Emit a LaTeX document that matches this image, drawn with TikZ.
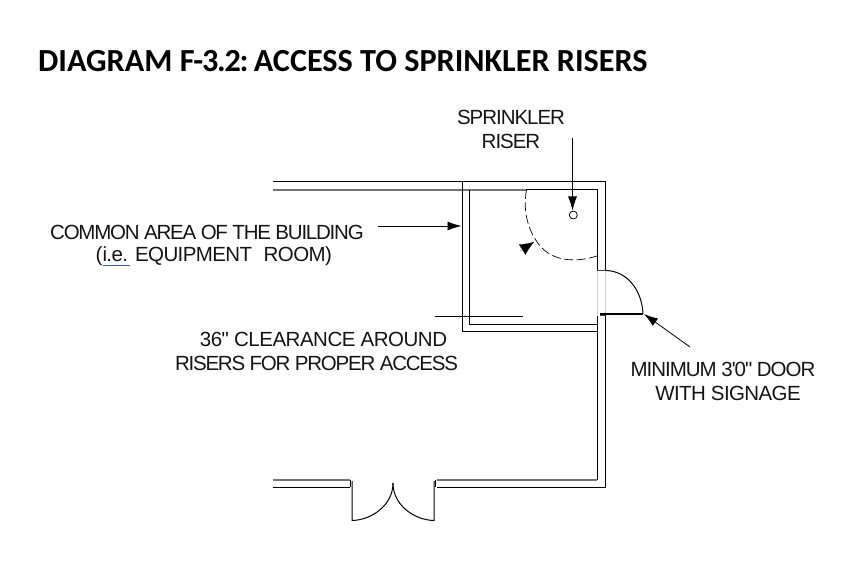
\documentclass[tikz,border=0pt]{standalone}
\usepackage{fontspec}
\usetikzlibrary{arrows.meta}
\newfontfamily\lblfont{Liberation Sans}[LetterSpace=-5]
\newfontfamily\lblfonta{Liberation Sans}[LetterSpace=-6]
\newfontfamily\lblfontb{Liberation Sans}[LetterSpace=-3]
\newfontfamily\lblfontc{Liberation Sans}[LetterSpace=-2.4]
\newfontfamily\titlefont{Carlito}
\definecolor{linkblue}{RGB}{50,90,170}
\tikzset{
  x=1pt,y=-1pt,
  wall/.style={line width=1pt,black},
  greywall/.style={line width=1.2pt,black!55},
  pale/.style={line width=0.7pt,black!20},
  leader/.style={line width=0.8pt,-{Latex[length=14pt,width=9pt]}},
  label/.style={font=\lblfont\fontsize{20.5}{24}\selectfont,align=center,inner sep=0pt,text=black!92},
}
\begin{document}
\begin{tikzpicture}
\useasboundingbox (0,0) rectangle (862,564);
\node[inner sep=0pt,anchor=west,font=\titlefont\bfseries\fontsize{32.2}{36}\selectfont] (title) at (38,61) {DIAGRAM F\kern-1.2pt-\kern-1.2pt3\kern-1.2pt.\kern-1.2pt2\kern-1.2pt:\kern-2pt\ ACCESS TO SPRINKLER RISERS};
% labels
\node[label] (riserlbl) at (511,129) {SPRINKLER\\RISER};
\node[label,anchor=west] (commonlbl) at (50,232.5) {\lblfonta COMMON AREA OF THE BUILDING};
\node[label,anchor=west] (equiplbl) at (95.5,256) {\lblfontb(\rlap{\textcolor{linkblue}{\rule[-4pt]{27pt}{0.8pt}}}i.e.\kern2pt\ EQUIPMENT\ \kern1.5pt\ ROOM)};
\node[label] (clearlbl) at (316.5,351) {\hspace*{14pt}{\lblfontc 36" CLEARANCE AROUND}\\{\lblfonta RISERS FOR PROPER ACCESS}};
\node[label] (doorlbl) at (723,381) {MINIMUM 3'0" DOOR\\\hspace*{10pt}{\lblfontb WITH SIGNAGE}};
% walls
\draw[wall] (273,182) -- (605.7,182) -- (605.7,270);
\draw[greywall] (273,190) -- (526,190);
\draw[wall] (526,190) -- (597.3,190) -- (597.3,270);
\draw[wall] (462.7,182) -- (462.7,331.3) -- (597.3,331.3);
\draw[wall] (469.5,190) -- (469.5,324.3) -- (597.3,324.3);
\draw[wall] (605.7,316) -- (605.7,487.3) -- (437,487.3);
\draw[wall] (597.3,316) -- (597.3,480);
\draw[greywall] (597.3,480) -- (437,480);
\draw[greywall] (273,480) -- (350,480);
\draw[wall] (273,487.3) -- (350,487.3);
\draw[pale] (597.3,270) -- (597.3,316) (605.7,270) -- (605.7,316);
% side door
\draw[line width=1.2pt,black!75] (597,270.5) -- (606,270.5) (600,315.5) -- (606,315.5);
\draw[wall] (606,270.5) .. controls (627,271) and (642,290) .. (643,314);
\draw[line width=1.3pt,black] (643,314) -- (600,314);
% double door
\draw[wall] (350.7,480) -- (350.7,487.3) (435.7,480) -- (435.7,487.3);
\draw[wall] (352,481) -- (352,520.5) .. controls (372,520) and (393,505) .. (393,483);
\draw[wall] (434,481) -- (434,520.5) .. controls (414,520) and (393,505) .. (393,483);
% swing
\draw[line width=0.7pt,dash pattern=on 9pt off 3.5pt] (526.5,190) .. controls (522,214) and (530,236) .. (543,249) .. controls (557,262) and (578,262) .. (597,256);
% riser
\node[circle,draw,line width=0.8pt,minimum size=8pt,inner sep=0pt] (riser) at (573.3,215) {};
\coordinate (riserstart) at (572.5,138);
\coordinate (riserend) at (572.5,210.5);
\draw[leader] (riserstart) -- (riserend);
\coordinate (commonstart) at (378,226);
\coordinate (commonend) at (461.5,226);
\draw[leader] (commonstart) -- (commonend);
\coordinate (clearstart) at (435,316);
\coordinate (clearend) at (523,316);
\draw[line width=0.8pt] (clearstart) -- (clearend);
\coordinate (doorstart) at (690,347);
\coordinate (doorend) at (644,314);
\draw[leader] (doorstart) -- (doorend);
\coordinate (swingtail) at (520,251);
\coordinate (swingtip) at (534,242);
\draw[-{Latex[length=14pt,width=12pt]},line width=0.1pt] (swingtail) -- (swingtip);
\end{tikzpicture}
\end{document}
